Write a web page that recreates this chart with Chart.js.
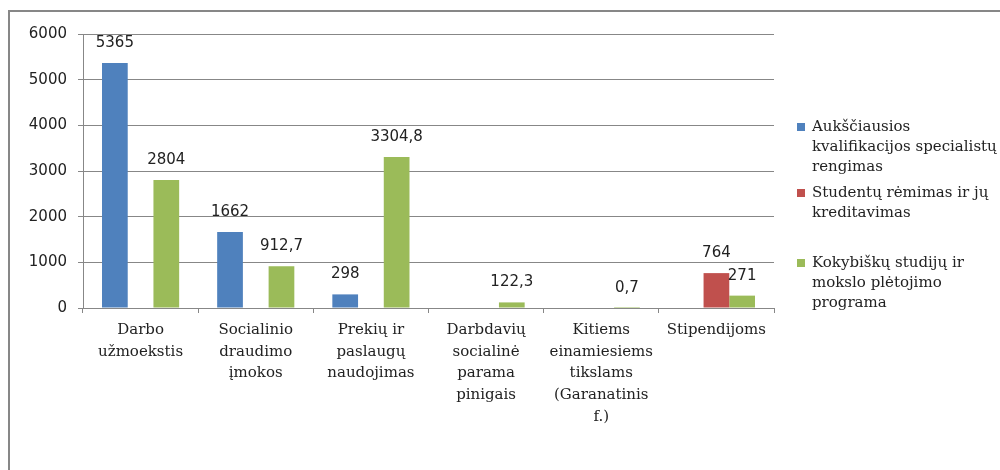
<!DOCTYPE html>
<html>
<head>
<meta charset="utf-8">
<script src="https://cdn.jsdelivr.net/npm/chart.js@4"></script>
<style>
  html, body { margin: 0; padding: 0; background: #fff; overflow: hidden; }
  #wrap { position: relative; width: 1000px; height: 470px; }
  #frame { position: absolute; left: 8px; top: 10px; width: 1000px; height: 500px; border: 2px solid #878787; box-sizing: border-box; }
  canvas { position: absolute; left: 0; top: 0; }
</style>
</head>
<body>
<div id="wrap">
  <div id="frame"></div>
  <canvas id="chart" width="1000" height="470"></canvas>
</div>
<script>
const categories = [
  ['Darbo', 'užmoekstis'],
  ['Socialinio', 'draudimo', 'įmokos'],
  ['Prekių ir', 'paslaugų', 'naudojimas'],
  ['Darbdavių', 'socialinė', 'parama', 'pinigais'],
  ['Kitiems', 'einamiesiems', 'tikslams', '(Garanatinis', 'f.)'],
  ['Stipendijoms']
];
const seriesNames = [
  ['Aukščiausios', 'kvalifikacijos specialistų', 'rengimas'],
  ['Studentų rėmimas ir jų', 'kreditavimas'],
  ['Kokybiškų studijų ir', 'mokslo plėtojimo', 'programa']
];
const specialistai = [5365, 1662, 298, null, null, null];
const studentai = [null, null, null, null, null, 764];
const kokybe = [2804, 912.7, 3304.8, 122.3, 0.7, 271];
const colors = ['#4F81BD', '#C0504D', '#9BBB59'];

const valueLabels = {
  id: 'valueLabels',
  afterDatasetsDraw(chart) {
    const ctx = chart.ctx;
    ctx.save();
    ctx.font = '15px "DejaVu Sans"';
    ctx.fillStyle = '#222';
    ctx.textAlign = 'center';
    ctx.textBaseline = 'middle';
    chart.data.datasets.forEach((ds, i) => {
      chart.getDatasetMeta(i).data.forEach((bar, j) => {
        const v = ds.data[j];
        if (v === null || v === undefined) return;
        ctx.fillText(String(v).replace('.', ','), bar.x, bar.y - 20);
      });
    });
    ctx.restore();
  }
};

const sideLegend = {
  id: 'sideLegend',
  afterDraw(chart) {
    const ctx = chart.ctx;
    const tops = [127, 193, 263];
    ctx.save();
    ctx.font = '15px "DejaVu Serif"';
    ctx.textBaseline = 'middle';
    ctx.textAlign = 'left';
    seriesNames.forEach((lines, i) => {
      ctx.fillStyle = colors[i];
      ctx.fillRect(797, tops[i] - 4, 8, 8);
      ctx.fillStyle = '#222';
      lines.forEach((t, k) => ctx.fillText(t, 812, tops[i] + k * 20));
    });
    ctx.restore();
  }
};

new Chart(document.getElementById('chart'), {
  type: 'bar',
  data: {
    labels: categories,
    datasets: [
      { label: seriesNames[0].join(' '), data: specialistai, backgroundColor: colors[0] },
      { label: seriesNames[1].join(' '), data: studentai, backgroundColor: colors[1] },
      { label: seriesNames[2].join(' '), data: kokybe, backgroundColor: colors[2] }
    ]
  },
  options: {
    responsive: false,
    animation: false,
    categoryPercentage: 0.67,
    barPercentage: 1,
    layout: { padding: { top: 34, right: 226, bottom: 0, left: 0 } },
    plugins: {
      legend: { display: false },
      tooltip: { enabled: false }
    },
    scales: {
      x: {
        grid: { offset: true, drawOnChartArea: false, drawTicks: true, tickLength: 5, color: '#878787' },
        border: { color: '#878787' },
        ticks: {
          autoSkip: false, maxRotation: 0, minRotation: 0, padding: 6, color: '#222',
          font: { family: 'DejaVu Serif', size: 15, lineHeight: 1.45 }
        },
        afterFit: s => { s.height = 162; }
      },
      y: {
        min: 0, max: 6000,
        grid: { color: '#878787', tickLength: 5 },
        border: { color: '#878787' },
        ticks: {
          stepSize: 1000, padding: 11, color: '#222',
          font: { family: 'DejaVu Sans', size: 15 },
          callback: v => String(v)
        },
        afterFit: s => { s.width = 83; }
      }
    }
  },
  plugins: [valueLabels, sideLegend]
});
</script>
</body>
</html>
